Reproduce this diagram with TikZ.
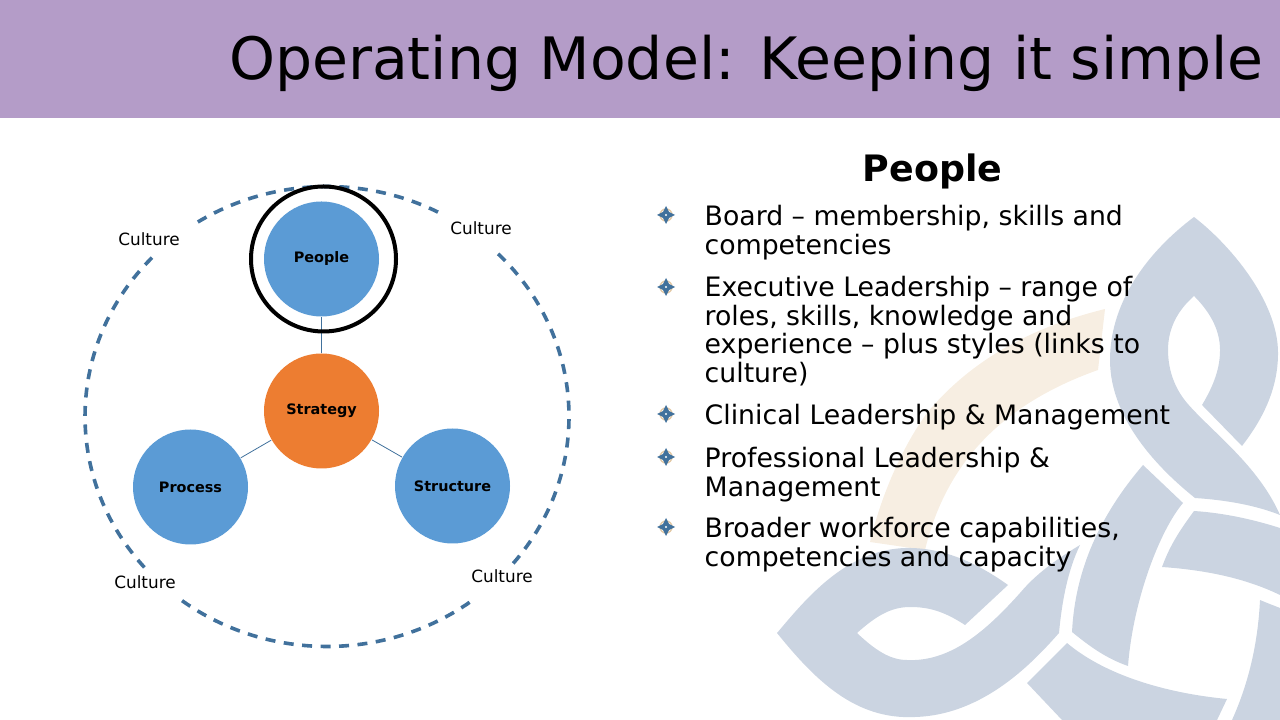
\documentclass[tikz,border=0pt]{standalone}
\usepackage{fontspec}
\setmainfont{DejaVu Sans}
\definecolor{bandpurple}{HTML}{B49CC8}
\definecolor{knotblue}{HTML}{CBD4E1}
\definecolor{knotbeige}{HTML}{F7EEE2}
\definecolor{circleblue}{HTML}{5B9BD5}
\definecolor{circleorange}{HTML}{ED7D31}
\definecolor{ringblue}{HTML}{41719C}
\definecolor{markertan}{HTML}{E3C9A6}
\tikzset{
  blob/.style={circle,minimum size=1.15cm,inner sep=0pt,fill=circleblue,font=\fontsize{4.1}{4.8}\selectfont\bfseries},
  link/.style={ringblue,line width=0.008cm},
  cultureline/.style={ringblue,line width=0.036cm,dash pattern=on 0.10cm off 0.085cm},
  culture/.style={font=\fontsize{4.8}{5.5}\selectfont,inner sep=0pt},
  bodytext/.style={anchor=north west,align=left,inner sep=0pt,font=\fontsize{7.6}{8.1}\selectfont},
  knot/.style={fill=knotblue,draw=none},
  bulletmark/.pic={
    \draw[markertan,line width=0.014cm] (0,0) circle (0.06);
    \fill[ringblue] (0,0.09) -- (0.03,0.03) -- (0.09,0) -- (0.03,-0.03) -- (0,-0.09) -- (-0.03,-0.03) -- (-0.09,0) -- (-0.03,0.03) -- cycle;
    \fill[white] (0,0) circle (0.012);
  }
}
\begin{document}
\begin{tikzpicture}
\useasboundingbox (0,0) rectangle (12.8,-7.2);
% background knot
\fill[knotbeige] (11.05,-3.09) .. controls (10.40,-3.25) and (9.75,-3.55) .. (9.27,-4.13) .. controls (9.00,-4.50) and (8.80,-5.00) .. (8.70,-5.42) -- (9.25,-5.50) .. controls (9.42,-4.80) and (9.85,-4.10) .. (10.98,-3.70) -- cycle;
\fill[knot] (11.94,-2.17) .. controls (12.28,-2.43) and (12.78,-3.00) .. (12.78,-3.53) .. controls (12.78,-3.90) and (12.62,-4.20) .. (12.42,-4.46) -- (12.02,-4.05) .. controls (12.14,-3.85) and (12.20,-3.68) .. (12.20,-3.50) .. controls (12.20,-3.28) and (12.08,-3.10) .. (11.94,-2.96) .. controls (11.78,-3.10) and (11.68,-3.28) .. (11.68,-3.50) .. controls (11.68,-3.72) and (11.76,-3.90) .. (11.87,-4.03) .. controls (12.12,-4.32) and (12.58,-4.65) .. (12.80,-5.15) .. controls (12.55,-5.05) and (12.25,-5.00) .. (11.95,-4.98) .. controls (11.60,-4.70) and (11.10,-4.20) .. (11.10,-3.60) .. controls (11.10,-3.00) and (11.50,-2.50) .. (11.94,-2.17) -- cycle;
\fill[knot] (11.43,-4.65) -- (11.83,-5.03) .. controls (11.60,-5.30) and (11.33,-6.00) .. (11.28,-6.66) .. controls (11.05,-6.58) and (10.88,-6.45) .. (10.72,-6.32) .. controls (10.75,-5.70) and (11.00,-5.15) .. (11.43,-4.65) -- cycle;
\fill[knot] (11.94,-5.11) .. controls (12.25,-5.13) and (12.55,-5.20) .. (12.80,-5.28) -- (12.80,-5.95) .. controls (12.45,-5.78) and (12.05,-5.70) .. (11.62,-5.67) .. controls (11.70,-5.45) and (11.80,-5.30) .. (11.94,-5.11) -- cycle;
\fill[knot] (12.60,-6.00) .. controls (12.67,-6.03) and (12.75,-6.06) .. (12.80,-6.08) -- (12.80,-7.20) -- (12.32,-7.20) .. controls (12.50,-6.80) and (12.58,-6.40) .. (12.60,-6.00) -- cycle;
\fill[knot] (10.67,-6.43) .. controls (11.05,-6.75) and (11.65,-6.93) .. (12.27,-6.99) -- (12.17,-7.20) -- (10.62,-7.20) -- (10.27,-6.83) -- cycle;
\fill[knot] (7.77,-6.33) .. controls (8.05,-6.00) and (8.45,-5.50) .. (9.05,-5.48) .. controls (9.45,-5.47) and (9.80,-5.65) .. (10.08,-5.85) -- (9.65,-6.25) .. controls (9.45,-6.12) and (9.30,-6.07) .. (9.10,-6.07) .. controls (8.90,-6.07) and (8.75,-6.17) .. (8.57,-6.33) .. controls (8.75,-6.50) and (8.90,-6.60) .. (9.07,-6.60) .. controls (9.50,-6.62) and (9.85,-6.32) .. (10.20,-5.93) .. controls (10.35,-5.75) and (10.55,-5.60) .. (10.80,-5.45) .. controls (10.68,-5.70) and (10.62,-6.00) .. (10.59,-6.33) .. controls (10.35,-6.60) and (9.85,-7.15) .. (9.15,-7.17) .. controls (8.55,-7.20) and (8.15,-6.80) .. (7.77,-6.33) -- cycle;
% title band
\fill[bandpurple] (0,0) rectangle (12.8,-1.18);
\node[anchor=base east,inner sep=0pt,font=\fontsize{16.63}{20}\selectfont] (title) at (12.645,-0.8) {Operating Model: Keeping it simple};
% model circles
\coordinate (ringcentre) at (3.27,-4.165);
\foreach \from/\to in {62.7/122.5, 136.3/221.2, 233.2/307.7, 320.3/406}
  \draw[cultureline] (ringcentre) ++(\from:2.42 and 2.30) arc[start angle=\from,end angle=\to,x radius=2.42,y radius=2.30];
\node[blob] (people) at (3.215,-2.59) {People};
\node[blob,fill=circleorange] (strategy) at (3.215,-4.11) {Strategy};
\node[blob] (process) at (1.905,-4.87) {Process};
\node[blob] (structure) at (4.525,-4.86) {Structure};
\draw[link] (strategy) -- (people);
\draw[link] (strategy) -- (process);
\draw[link] (strategy) -- (structure);
\node[circle,draw=black,line width=0.04cm,minimum size=1.45cm,inner sep=0pt] (focus) at (3.235,-2.59) {};
\node[culture] (culturea) at (1.49,-2.39) {Culture};
\node[culture] (cultureb) at (4.81,-2.28) {Culture};
\node[culture] (culturec) at (1.45,-5.82) {Culture};
\node[culture] (cultured) at (5.02,-5.76) {Culture};
% bullet list
\node[inner sep=0pt,font=\fontsize{10.35}{12}\selectfont\bfseries] (heading) at (9.325,-1.71) {People};
\pic at (6.66,-2.15) {bulletmark};
\node[bodytext] (board) at (7.04,-2.05) {Board – membership, skills and\\competencies};
\pic at (6.66,-2.87) {bulletmark};
\node[bodytext] (executive) at (7.04,-2.76) {Executive Leadership – range of\\roles, skills, knowledge and\\experience – plus styles (links to\\culture)};
\pic at (6.66,-4.14) {bulletmark};
\node[bodytext] (clinical) at (7.04,-4.04) {Clinical Leadership \& Management};
\pic at (6.66,-4.57) {bulletmark};
\node[bodytext] (professional) at (7.04,-4.47) {Professional Leadership \&\\Management};
\pic at (6.66,-5.27) {bulletmark};
\node[bodytext] (broader) at (7.04,-5.17) {Broader workforce capabilities,\\competencies and capacity};
\end{tikzpicture}
\end{document}
